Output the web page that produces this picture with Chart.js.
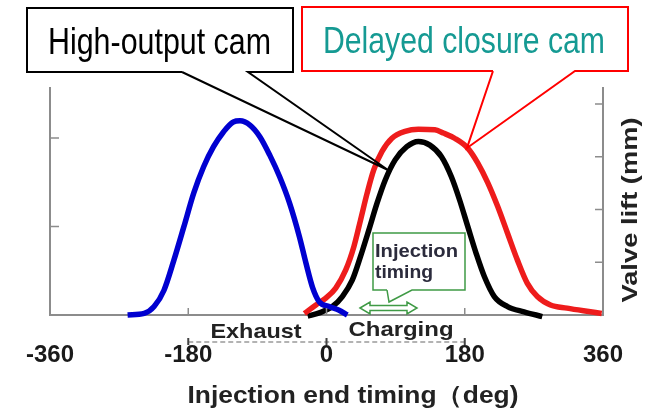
<!DOCTYPE html>
<html>
<head>
<meta charset="utf-8">
<script src="https://cdn.jsdelivr.net/npm/chart.js@4/dist/chart.umd.min.js"></script>
<style>
html,body{margin:0;padding:0;background:#fff;}
#wrap{width:652px;height:412px;}
</style>
</head>
<body>
<div id="wrap"><canvas id="c" width="652" height="412"></canvas></div>
<script>
// ---- Data (crank angle in deg, valve lift in units of the right axis ticks) ----
const xTickValues = [-360, -180, 0, 180, 360];
const rightTickValues = [0, 1, 2, 3, 4];
const leftTickValues = [0, 1, 2];

const exhaustDeg  = [-259, -237.4, -224.5, -211.6, -198.7, -185.8, -172.9, -160, -147.1, -134.2, -121.3, -112.6, -99.7, -86.8, -73.9, -61, -48.1, -35.2, -26.7, -18.1, -9.4, 3.5, 16.4, 27.1];
const exhaustLift = [0, 0.03, 0.16, 0.47, 1.04, 1.67, 2.31, 2.81, 3.19, 3.47, 3.66, 3.68, 3.60, 3.38, 3.03, 2.62, 2.12, 1.48, 0.98, 0.52, 0.25, 0.16, 0.09, 0];

const highOutputDeg  = [-24.5, -9.4, 7.7, 20.6, 33.5, 44.3, 55.1, 65.8, 76.5, 89.4, 104.5, 119.6, 134.6, 149.7, 162.6, 173.3, 184.1, 194.8, 205.5, 218.5, 235.7, 257.2, 280.9];
const highOutputLift = [-0.02, 0.04, 0.16, 0.35, 0.66, 1.11, 1.61, 2.12, 2.56, 2.94, 3.19, 3.29, 3.22, 3.00, 2.62, 2.18, 1.67, 1.17, 0.73, 0.35, 0.16, 0.06, -0.03];

const delayedDeg  = [-28.8, -13.8, -0.9, 12.0, 24.9, 35.7, 44.3, 52.9, 61.5, 72.3, 85.2, 102.3, 119.6, 141.0, 152.0, 166.8, 184.1, 197.0, 209.9, 222.8, 235.7, 248.6, 261.5, 274.5, 291.6, 313.2, 334.6, 358.3];
const delayedLift = [0.03, 0.19, 0.32, 0.51, 0.85, 1.30, 1.80, 2.31, 2.75, 3.10, 3.35, 3.48, 3.52, 3.51, 3.45, 3.35, 3.16, 2.88, 2.51, 2.06, 1.55, 1.04, 0.60, 0.35, 0.19, 0.13, 0.08, 0.03];

const xTitle = 'Injection end timing（deg)';
const yTitle = 'Valve lift (mm)';
const calloutHigh = 'High-output cam';
const calloutDelayed = 'Delayed closure cam';
const labelExhaust = 'Exhaust';
const labelCharging = 'Charging';
const injLines = ['Injection', 'timing'];

function pts(xs, ys) { return xs.map((x, i) => ({x: x, y: ys[i]})); }

const FONT = '"Liberation Sans", Arial, Helvetica, sans-serif';

function fitText(ctx, txt, cx, base, w, font, color) {
  ctx.save();
  ctx.font = font;
  const m = ctx.measureText(txt).width;
  ctx.translate(cx, base);
  ctx.scale(w / m, 1);
  ctx.textAlign = 'center';
  ctx.textBaseline = 'alphabetic';
  ctx.fillStyle = color;
  ctx.fillText(txt, 0, 0);
  ctx.restore();
}

function callout(ctx, l, t, r, b, b1, b2, tip, color) {
  ctx.save();
  ctx.fillStyle = '#fff';
  ctx.fillRect(l, t, r - l, b - t);
  ctx.beginPath();
  ctx.moveTo(b1, b);
  ctx.lineTo(l, b);
  ctx.lineTo(l, t);
  ctx.lineTo(r, t);
  ctx.lineTo(r, b);
  ctx.lineTo(b2, b);
  ctx.lineTo(tip[0], tip[1]);
  ctx.lineTo(b1, b);
  ctx.strokeStyle = color;
  ctx.lineWidth = 2;
  ctx.lineJoin = 'miter';
  ctx.stroke();
  ctx.restore();
}

const overlay = {
  id: 'overlay',
  afterDatasetsDraw(chart) {
    const ctx = chart.ctx;
    const xs = chart.scales.x, yr = chart.scales.y, yl = chart.scales.y2;
    const base = yr.getPixelForValue(0);
    ctx.save();
    // inward tick marks
    ctx.strokeStyle = '#8c8c8c';
    ctx.lineWidth = 1.5;
    ctx.beginPath();
    xTickValues.slice(1, -1).forEach(v => {
      const px = xs.getPixelForValue(v);
      ctx.moveTo(px, base); ctx.lineTo(px, base - 7);
    });
    rightTickValues.slice(1).forEach(v => {
      const py = yr.getPixelForValue(v);
      ctx.moveTo(chart.chartArea.right, py); ctx.lineTo(chart.chartArea.right - 8, py);
    });
    leftTickValues.slice(1).forEach(v => {
      const py = yl.getPixelForValue(v);
      ctx.moveTo(chart.chartArea.left, py); ctx.lineTo(chart.chartArea.left + 9, py);
    });
    ctx.stroke();

    // dashed exhaust/charging line
    const dashY = 342;
    ctx.strokeStyle = '#9a9a9a';
    ctx.lineWidth = 1.5;
    ctx.setLineDash([5, 3]);
    ctx.beginPath();
    ctx.moveTo(xs.getPixelForValue(-180), dashY);
    ctx.lineTo(xs.getPixelForValue(180), dashY);
    ctx.stroke();
    ctx.setLineDash([]);
    ctx.strokeStyle = '#444';
    ctx.lineWidth = 2;
    ctx.beginPath();
    [-180, 0, 180].forEach(v => {
      const px = xs.getPixelForValue(v);
      ctx.moveTo(px, dashY - 4); ctx.lineTo(px, dashY + 3);
    });
    ctx.stroke();

    fitText(ctx, labelExhaust, 256, 338, 91, 'bold 21px ' + FONT, '#222');
    fitText(ctx, labelCharging, 401, 336, 105, 'bold 21px ' + FONT, '#222');

    // axis titles
    fitText(ctx, xTitle, 353, 403, 331, 'bold 24px ' + FONT, '#222');
    ctx.save();
    ctx.translate(637, 210);
    ctx.rotate(-Math.PI / 2);
    fitText(ctx, yTitle, 0, 0, 185, 'bold 22px ' + FONT, '#222');
    ctx.restore();

    // injection timing box
    ctx.fillStyle = '#fff';
    ctx.fillRect(373, 233, 92, 57);
    ctx.strokeStyle = '#3f9a45';
    ctx.lineWidth = 1.5;
    ctx.beginPath();
    ctx.moveTo(387, 290); ctx.lineTo(373, 290); ctx.lineTo(373, 233);
    ctx.lineTo(465, 233); ctx.lineTo(465, 290); ctx.lineTo(412, 290);
    ctx.lineTo(389, 302); ctx.lineTo(387, 290);
    ctx.stroke();
    fitText(ctx, injLines[0], 375 + 41.5, 257, 83, 'bold 19px ' + FONT, '#2b2b3c');
    fitText(ctx, injLines[1], 375 + 29, 278, 58, 'bold 19px ' + FONT, '#2b2b3c');

    // hollow double arrow
    const aL = 360, aR = 417, aY = 308, hl = 10, hh = 6, sh = 2.5;
    ctx.beginPath();
    ctx.moveTo(aL, aY);
    ctx.lineTo(aL + hl, aY - hh);
    ctx.lineTo(aL + hl, aY - sh);
    ctx.lineTo(aR - hl, aY - sh);
    ctx.lineTo(aR - hl, aY - hh);
    ctx.lineTo(aR, aY);
    ctx.lineTo(aR - hl, aY + hh);
    ctx.lineTo(aR - hl, aY + sh);
    ctx.lineTo(aL + hl, aY + sh);
    ctx.lineTo(aL + hl, aY + hh);
    ctx.closePath();
    ctx.fillStyle = '#fff';
    ctx.fill();
    ctx.strokeStyle = '#3f9a45';
    ctx.lineWidth = 1.5;
    ctx.stroke();

    // callouts
    callout(ctx, 27, 8, 293, 72, 182, 248, [388, 170], '#000');
    fitText(ctx, calloutHigh, 159.5, 54, 223, '37px ' + FONT, '#000');
    callout(ctx, 302, 7, 628, 71, 493, 575, [467, 148], '#ff0000');
    fitText(ctx, calloutDelayed, 464, 53, 282, '37px ' + FONT, '#159a93');
    ctx.restore();
  }
};

new Chart(document.getElementById('c'), {
  type: 'line',
  data: {
    datasets: [
      { label: 'Exhaust', data: pts(exhaustDeg, exhaustLift), borderColor: '#0000d0', borderWidth: 5.5, pointRadius: 0, cubicInterpolationMode: 'monotone', clip: false, yAxisID: 'y' },
      { label: 'Delayed closure cam', data: pts(delayedDeg, delayedLift), borderColor: '#ee1c1c', borderWidth: 5.5, pointRadius: 0, cubicInterpolationMode: 'monotone', clip: false, yAxisID: 'y' },
      { label: 'High-output cam', data: pts(highOutputDeg, highOutputLift), borderColor: '#000000', borderWidth: 5.5, pointRadius: 0, cubicInterpolationMode: 'monotone', clip: false, yAxisID: 'y' }
    ]
  },
  options: {
    responsive: false,
    animation: false,
    devicePixelRatio: 1,
    layout: { padding: { top: 88, left: 0, right: 0, bottom: 0 } },
    plugins: { legend: { display: false }, tooltip: { enabled: false }, title: { display: false } },
    scales: {
      x: {
        type: 'linear', min: -360, max: 360,
        afterBuildTicks: s => { s.ticks = xTickValues.map(v => ({ value: v })); },
        ticks: { font: { family: FONT, size: 24, weight: 'bold', lineHeight: 1.2 }, color: '#1a1a1a', padding: 26, maxRotation: 0, autoSkip: false },
        grid: { display: false, drawTicks: false },
        border: { display: true, color: '#8c8c8c', width: 2 },
        afterFit: s => { s.height = 97; }
      },
      y: {
        position: 'right', min: 0, max: 4.303,
        afterBuildTicks: s => { s.ticks = rightTickValues.map(v => ({ value: v })); },
        ticks: { display: false },
        grid: { display: false, drawTicks: false },
        border: { display: true, color: '#8c8c8c', width: 2 },
        afterFit: s => { s.width = 49; }
      },
      y2: {
        position: 'left', min: 0, max: 2.565,
        afterBuildTicks: s => { s.ticks = leftTickValues.map(v => ({ value: v })); },
        ticks: { display: false },
        grid: { display: false, drawTicks: false },
        border: { display: true, color: '#8c8c8c', width: 2 },
        afterFit: s => { s.width = 45; }
      }
    }
  },
  plugins: [overlay]
});
</script>
</body>
</html>
